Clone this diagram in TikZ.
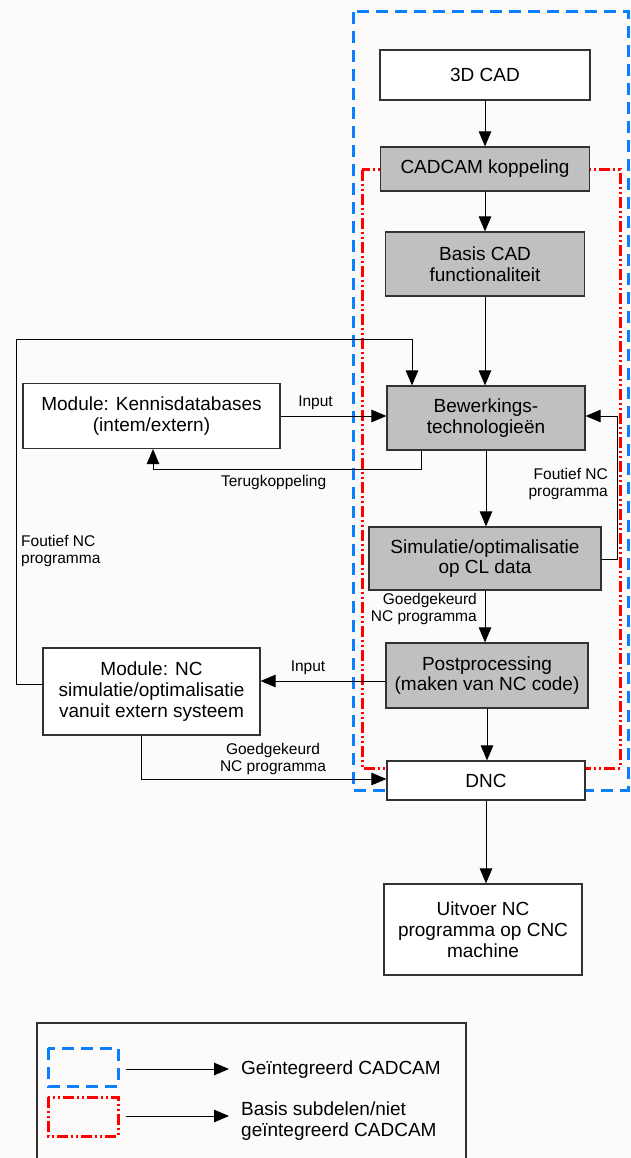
\documentclass[tikz,border=0pt]{standalone}
\usepackage{fontspec}
\setmainfont{Liberation Sans}
\usetikzlibrary{arrows.meta}

\definecolor{boxgray}{RGB}{192,192,192}
\definecolor{cadblue}{RGB}{10,128,255}
\definecolor{cadred}{RGB}{255,0,0}
\definecolor{paper}{RGB}{252,251,250}
\definecolor{linegray}{RGB}{50,50,50}

\tikzset{
  box/.style={draw=linegray,line width=1.2pt,fill=white,align=center,inner sep=0pt,
    font=\fontsize{19}{20.7}\selectfont},
  graybox/.style={box,fill=boxgray},
  lbl/.style={font=\fontsize{15.5}{17}\selectfont,inner sep=0pt},
  arr/.style={draw,line width=1pt,-{Triangle[length=15pt,width=12.5pt]}},
  blueframe/.style={draw=cadblue,line width=3pt,dash pattern=on 12pt off 7pt},
  redframe/.style={draw=cadred,line width=3pt,
    dash pattern=on 11pt off 3pt on 2pt off 3pt on 2pt off 3pt}
}

\begin{document}
\begin{tikzpicture}[x=1pt,y=-1pt]

      \useasboundingbox (0,0) rectangle (631,1158);
      \fill[paper] (0,0) rectangle (631,1158);

      % frames
      \draw[blueframe] (353,12) rectangle (628,790);
      \draw[redframe] (362,170) rectangle (620,768);

      \begin{scope}[every node/.style={box}]
        \node[minimum width=210pt,minimum height=50pt] (cad) at (485,75) {3D CAD};
        \node[graybox,minimum width=209pt,minimum height=44pt] (koppeling) at (485,169) {CADCAM koppeling};
        \node[graybox,minimum width=199pt,minimum height=64pt] (basis) at (485,264) {Basis CAD\\functionaliteit};
        \node[graybox,minimum width=198pt,minimum height=64pt] (bewerk) at (486,418) {Bewerkings-\\technologieën};
        \node[graybox,minimum width=232pt,minimum height=63pt] (simul) at (485,558.5) {Simulatie/optimalisatie\\op CL data};
        \node[graybox,minimum width=202pt,minimum height=65pt] (post) at (487,675.5) {Postprocessing\\(maken van NC code)};
        \node[minimum width=198pt,minimum height=39pt] (dnc) at (486,780.5) {DNC};
        \node[minimum width=198pt,minimum height=91pt] (uitvoer) at (483,929.5) {Uitvoer NC\\programma op CNC\\machine};
        \node[minimum width=257pt,minimum height=65pt] (kennis) at (151.5,416) {Module: Kennisdatabases\\(intem/extern)};
        \node[minimum width=217pt,minimum height=87pt] (ncmod) at (151.5,691.5) {Module: NC\\simulatie/optimalisatie\\vanuit extern systeem};
      \end{scope}

      \coordinate (tk1) at (421,469);
      \coordinate (tk2) at (153,469);
      \coordinate (fbA) at (16,684);
      \coordinate (fbB) at (16,339);
      \coordinate (fbC) at (412,339);
      \coordinate (fr1) at (617,559);
      \coordinate (fr2) at (617,416);
      \coordinate (pin) at (300,681);
      \coordinate (gk) at (141,779);

      \begin{scope}[every edge/.style={arr}]
        \path (cad)       edge (cad.south |- koppeling.north);
        \path (koppeling) edge (koppeling.south |- basis.north);
        \path (basis)     edge (basis.south |- bewerk.north);
        \path (bewerk)    edge (bewerk.south |- simul.north);
        \path (simul)     edge (simul.south |- post.north);
        \path (post)      edge (post.south |- dnc.north);
        \path (dnc)       edge (dnc.south |- uitvoer.north);
        \path (kennis.east) edge node[lbl,above=6pt,pos=0.33] {Input} (kennis.east -| bewerk.west);
        \path (post.west |- pin) edge node[lbl,above=6pt,pos=0.62] {Input} (ncmod.east |- pin);
      \end{scope}

      \draw[arr] (bewerk.south -| tk1) -- (tk1)
        -- node[lbl,below=6pt,pos=0.55] {Terugkoppeling} (tk2) -- (kennis.south -| tk2);
      \draw[arr] (ncmod.west |- fbA) -- (fbA) -- (fbB) -- (fbC) -- (fbC |- bewerk.north);
      \draw[arr] (simul.east |- fr1) -- (fr1) -- (fr2) -- (bewerk.east |- fr2);
      \draw[arr] (ncmod.south -| gk) -- (gk) -- (dnc.west |- gk);

      \begin{scope}[every node/.style={lbl}]
        \node[anchor=east,align=right] (fout1) at (608,484) {Foutief NC\\programma};
        \node[anchor=west,align=left] (fout2) at (21,551) {Foutief NC\\programma};
        \node[anchor=east,align=right] (goed1) at (477,609) {Goedgekeurd\\NC programma};
        \node[align=center] (goed2) at (273,759) {Goedgekeurd\\NC programma};
      \end{scope}

      % legend
      \draw[linegray,line width=1.2pt] (37,1180) -- (37,1023) -- (466,1023) -- (466,1180);
      \draw[blueframe] (48,1048) rectangle (118,1086);
      \draw[redframe] (48,1097) rectangle (118,1136);
      \begin{scope}[every node/.style={font=\fontsize{19}{20.7}\selectfont,inner sep=0pt,anchor=west,align=left}]
        \node (leg1) at (241,1070) {Geïntegreerd CADCAM};
        \node (leg2) at (241,1121) {Basis subdelen/niet\\geïntegreerd CADCAM};
      \end{scope}
      \coordinate (la1) at (126,1069);
      \coordinate (la2) at (126,1116);
      \draw[arr] (la1) -- ([xshift=-12pt]la1 -| leg1.west);
      \draw[arr] (la2) -- ([xshift=-12pt]la2 -| leg2.west);

    \end{tikzpicture}
\end{document}
